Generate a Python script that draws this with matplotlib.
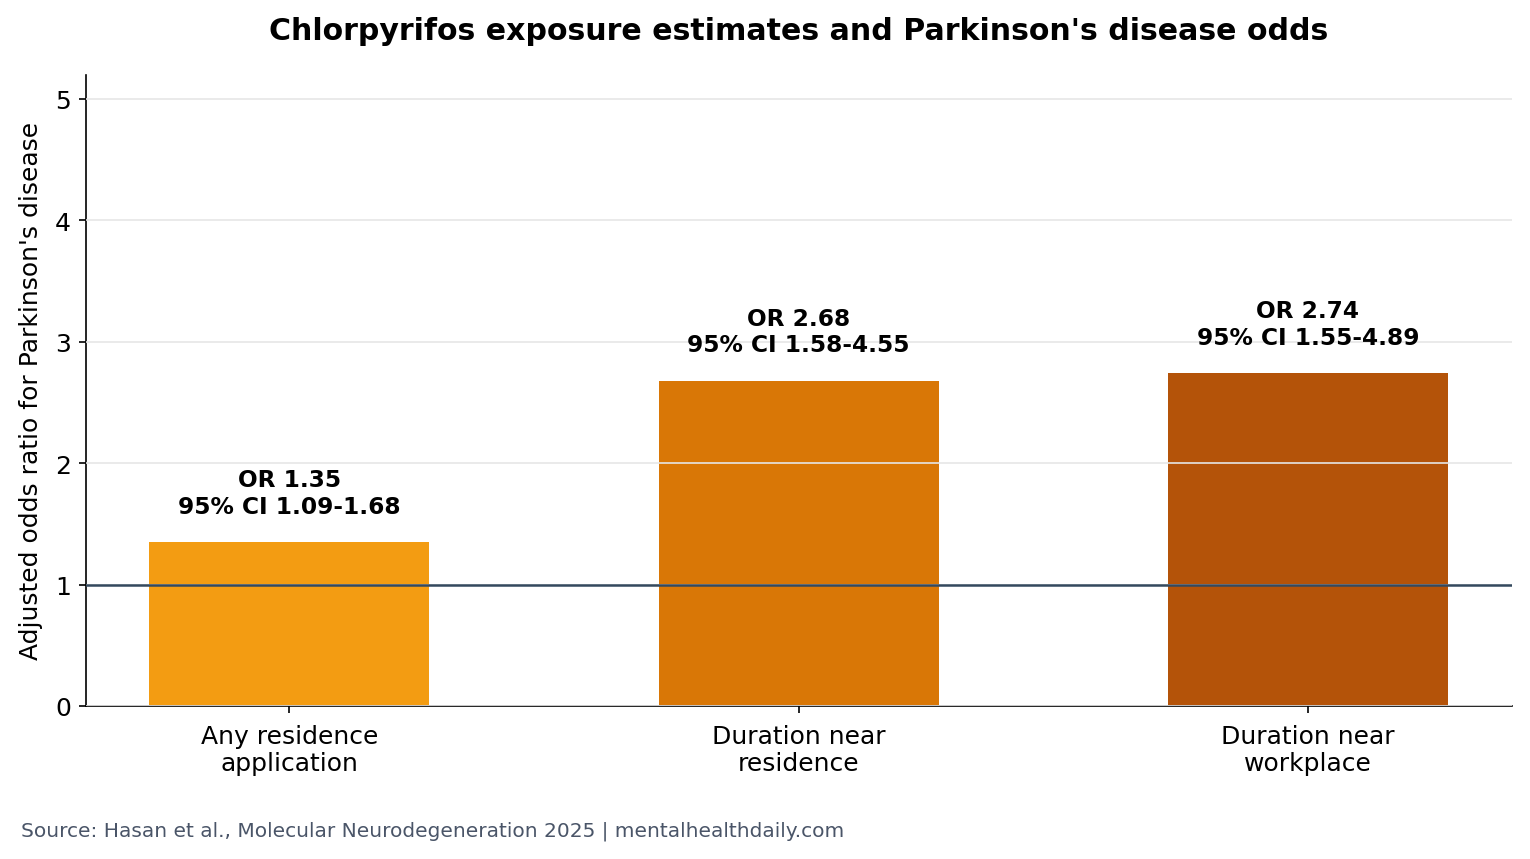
import matplotlib
matplotlib.use("Agg")
import matplotlib.pyplot as plt

categories = ["Any residence\napplication", "Duration near\nresidence", "Duration near\nworkplace"]
odds_ratios = [1.35, 2.68, 2.74]
ci_low = [1.09, 1.58, 1.55]
ci_high = [1.68, 4.55, 4.89]
colors = ["#f39c12", "#d97706", "#b45309"]

fig, ax = plt.subplots(figsize=(10.2, 5.7333), dpi=150)
fig.subplots_adjust(left=0.056, right=0.988, top=0.912, bottom=0.178)

x = range(len(categories))
bars = ax.bar(x, odds_ratios, width=0.55, color=colors, zorder=1)

ax.grid(axis="y", color="#e6e6e6", linewidth=0.8, zorder=2)
ax.set_axisbelow(False)
ax.axhline(1, color="#34495e", linewidth=1.2, zorder=3)

for b, orv, lo, hi in zip(bars, odds_ratios, ci_low, ci_high):
    ax.text(b.get_x() + b.get_width() / 2, orv + 0.2,
            f"OR {orv:.2f}\n95% CI {lo:.2f}-{hi:.2f}",
            ha="center", va="bottom", fontsize=11.2, fontweight="bold", zorder=4)

ax.set_xticks(list(x))
ax.set_xticklabels(categories, fontsize=12)
ax.tick_params(axis="x", pad=5)
ax.tick_params(axis="y", labelsize=12)
ax.set_xlim(-0.4, 2.4)
ax.set_ylim(0, 5.2)
ax.set_yticks([0, 1, 2, 3, 4, 5])
ax.set_ylabel("Adjusted odds ratio for Parkinson's disease", fontsize=12, labelpad=6)
ax.spines["top"].set_visible(False)
ax.spines["right"].set_visible(False)
ax.set_title("Chlorpyrifos exposure estimates and Parkinson's disease odds",
             fontsize=14.4, fontweight="bold", pad=17)

fig.text(0.014, 0.027, "Source: Hasan et al., Molecular Neurodegeneration 2025 | mentalhealthdaily.com",
         fontsize=9.7, color="#4a5568")

fig.savefig("out.png", dpi=150)
